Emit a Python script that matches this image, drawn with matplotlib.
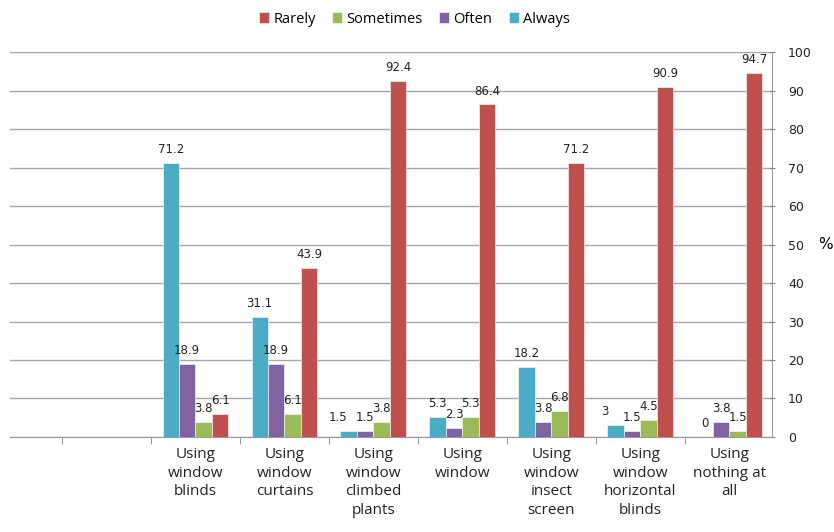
import numpy as np
import matplotlib
matplotlib.use("Agg")
import matplotlib.pyplot as plt

categories = ["", "",
              "Using\nwindow\nblinds", "Using\nwindow\ncurtains",
              "Using\nwindow\nclimbed\nplants", "Using\nwindow",
              "Using\nwindow\ninsect\nscreen", "Using\nwindow\nhorizontal\nblinds",
              "Using\nnothing at\nall"]
always = [None, None, 71.2, 31.1, 1.5, 5.3, 18.2, 3, 0]
often = [None, None, 18.9, 18.9, 1.5, 2.3, 3.8, 1.5, 3.8]
sometimes = [None, None, 3.8, 6.1, 3.8, 5.3, 6.8, 4.5, 1.5]
rarely = [None, None, 6.1, 43.9, 92.4, 86.4, 71.2, 90.9, 94.7]

series = [("Always", always, "#4BACC6"),
          ("Often", often, "#8064A2"),
          ("Sometimes", sometimes, "#9BBB59"),
          ("Rarely", rarely, "#C0504D")]

# small labels the original chart pushed sideways to keep them apart
nudge = {("Always", 4): -8, ("Always", 7): -8}

fig = plt.figure(figsize=(8.34, 5.32), dpi=100)
ax = fig.add_axes([0.012, 0.1786, 0.9137, 0.7234])

x = np.arange(len(categories))
w = 0.185
handles = {}
for i, (name, vals, col) in enumerate(series):
    idx = [k for k, v in enumerate(vals) if v is not None]
    v = [vals[k] for k in idx]
    pos = x[idx] + (i - 1.5) * w
    b = ax.bar(pos, v, w, color=col, edgecolor="white", linewidth=0.4, zorder=3)
    handles[name] = b
    for k, p, val in zip(idx, pos, v):
        dx = nudge.get((name, k), 0)
        ax.annotate(f"{val:g}", (p, val), xytext=(dx, 5), textcoords="offset points",
                    ha="center", va="bottom", fontsize=8.5, color="#222222", zorder=4)

ax.set_xlim(-0.084, 8.48)
ax.set_ylim(0, 100)
ax.yaxis.tick_right()
ax.set_yticks(range(0, 101, 10))
ax.tick_params(axis="y", labelsize=9, colors="#888888", labelcolor="#222222",
               length=5, direction="inout", pad=9)
ax.yaxis.set_label_position("right")
ax.set_ylabel("%", rotation=0, fontsize=11, labelpad=10, va="center")

ax.set_xticks(x)
ax.set_xticklabels(categories, fontsize=11, family="Open Sans", color="#222222",
                   linespacing=1.35)
ax.set_xticks(x[:-1] + 0.5, minor=True)
ax.tick_params(axis="x", which="major", length=0, pad=7)
ax.tick_params(axis="x", which="minor", length=5, color="#888888")

ax.grid(axis="y", color="#A6A6A6", linewidth=1, zorder=0)
for s in ["top", "left"]:
    ax.spines[s].set_visible(False)
for s in ["bottom", "right"]:
    ax.spines[s].set_color("#999999")

order = ["Rarely", "Sometimes", "Often", "Always"]
fig.legend([handles[n] for n in order], order, loc="center", bbox_to_anchor=(0.497, 0.964),
           ncol=4, frameon=False, prop={"family": "Open Sans", "size": 10.5},
           handlelength=0.7, handleheight=0.7, handletextpad=0.3, columnspacing=1.1)

fig.savefig("out.png", dpi=100)
